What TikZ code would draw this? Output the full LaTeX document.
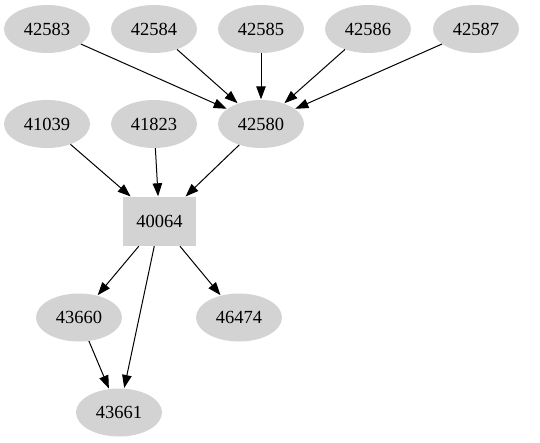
\documentclass[tikz,border=0pt]{standalone}
\usepackage{fontspec}
\setmainfont{Liberation Serif}
\usetikzlibrary{shapes.geometric,arrows.meta}
\definecolor{nodegray}{HTML}{D3D3D3}
\tikzset{
  x=1pt,y=-1pt,
  ell/.style={ellipse,fill=nodegray,minimum width=86pt,minimum height=48pt,inner sep=0pt,font=\fontsize{18.5}{22}\selectfont},
  boxnode/.style={rectangle,fill=nodegray,minimum width=73pt,minimum height=49pt,inner sep=0pt,font=\fontsize{18.5}{22}\selectfont},
  edge/.style={-{Triangle[length=13pt,width=9.5pt]},line width=1pt,shorten >=0.5pt}
}
\begin{document}
\begin{tikzpicture}
\useasboundingbox (0,0) rectangle (540,443);
\node[ell] (n42583) at (47,29) {42583};
\node[ell] (n42584) at (154,29) {42584};
\node[ell] (n42585) at (261,29) {42585};
\node[ell] (n42586) at (368,29) {42586};
\node[ell] (n42587) at (476,29) {42587};
\node[ell] (n41039) at (47,124) {41039};
\node[ell] (n41823) at (154,124) {41823};
\node[ell] (n42580) at (261,124) {42580};
\node[boxnode] (n40064) at (159.5,221.5) {40064};
\node[ell] (n43660) at (79,317.5) {43660};
\node[ell] (n46474) at (239,317.5) {46474};
\node[ell] (n43661) at (119,412.5) {43661};
\draw[edge] (n42583) -- (n42580);
\draw[edge] (n42584) -- (n42580);
\draw[edge] (n42585) -- (n42580);
\draw[edge] (n42586) -- (n42580);
\draw[edge] (n42587) -- (n42580);
\draw[edge] (n41039) -- (n40064);
\draw[edge] (n41823) -- (n40064);
\draw[edge] (n42580) -- (n40064);
\draw[edge] (n40064) -- (n43660);
\draw[edge] (n40064) -- (n46474);
\draw[edge] (n40064) -- (n43661);
\draw[edge] (n43660) -- (n43661);
\end{tikzpicture}
\end{document}
